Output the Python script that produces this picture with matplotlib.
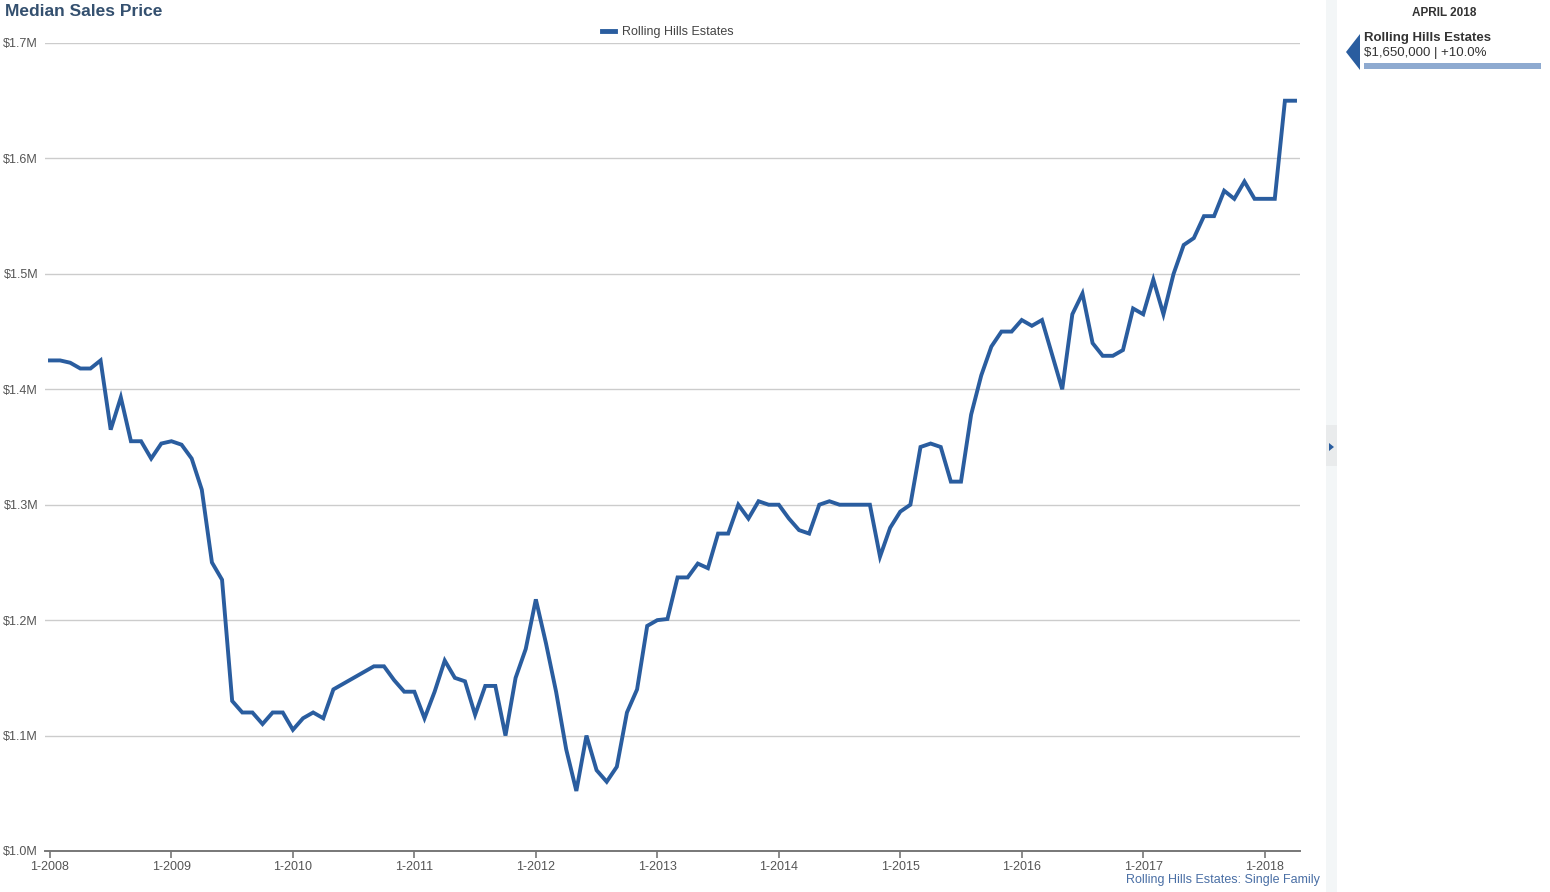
import matplotlib
matplotlib.use("Agg")
import matplotlib.pyplot as plt
from matplotlib.patches import Rectangle, Polygon

plt.rcParams['font.family'] = ['Liberation Sans', 'DejaVu Sans']

# ---- data (median sales price, $M, monthly Jan 2008 - Apr 2018) ----
series_name = "Rolling Hills Estates"
prices = [
    1.425, 1.425, 1.423, 1.418, 1.418, 1.425, 1.365, 1.393, 1.355, 1.355, 1.340, 1.353,  # 2008
    1.355, 1.352, 1.340, 1.313, 1.250, 1.235, 1.130, 1.120, 1.120, 1.110, 1.120, 1.120,  # 2009
    1.105, 1.115, 1.120, 1.115, 1.140, 1.145, 1.150, 1.155, 1.160, 1.160, 1.148, 1.138,  # 2010
    1.138, 1.115, 1.138, 1.165, 1.150, 1.147, 1.118, 1.143, 1.143, 1.100, 1.150, 1.175,  # 2011
    1.218, 1.180, 1.138, 1.088, 1.052, 1.100, 1.070, 1.060, 1.073, 1.120, 1.140, 1.195,  # 2012
    1.200, 1.201, 1.237, 1.237, 1.249, 1.245, 1.275, 1.275, 1.300, 1.288, 1.303, 1.300,  # 2013
    1.300, 1.288, 1.278, 1.275, 1.300, 1.303, 1.300, 1.300, 1.300, 1.300, 1.255, 1.280,  # 2014
    1.294, 1.300, 1.350, 1.353, 1.350, 1.320, 1.320, 1.378, 1.412, 1.437, 1.450, 1.450,  # 2015
    1.460, 1.455, 1.460, 1.430, 1.400, 1.465, 1.483, 1.440, 1.429, 1.429, 1.434, 1.470,  # 2016
    1.465, 1.495, 1.465, 1.500, 1.525, 1.531, 1.550, 1.550, 1.572, 1.565, 1.580, 1.565,  # 2017
    1.565, 1.565, 1.650, 1.650,                                                          # 2018
]
year_labels = ["1-2008", "1-2009", "1-2010", "1-2011", "1-2012", "1-2013",
               "1-2014", "1-2015", "1-2016", "1-2017", "1-2018"]
y_ticks = [1.0, 1.1, 1.2, 1.3, 1.4, 1.5, 1.6, 1.7]
y_labels = ["$1.0M", "$1.1M", "$1.2M", "$1.3M", "$1.4M", "$1.5M", "$1.6M", "$1.7M"]
latest_label = "APRIL 2018"

W, H = 1550, 892
fig = plt.figure(figsize=(W / 100, H / 100), dpi=100)
fig.patch.set_facecolor("white")

def fx(px):
    return px / W

def fy(py):
    return 1 - py / H

LINE = "#2a5d9f"
GRID = "#cccccc"
TXT = "#555555"

ax = fig.add_axes([fx(45), fy(851), fx(1300) - fx(45), fy(43) - fy(851)])
months = list(range(len(prices)))
ax.plot(months, prices, color=LINE, lw=2.8, solid_joinstyle="miter", zorder=3)

ax.set_xlim(-0.49, len(prices) - 1 + 0.49)
ax.set_ylim(1.0, 1.7)
ax.set_yticks(y_ticks)
ax.set_yticklabels(y_labels)
ax.set_xticks([12 * i for i in range(len(year_labels))])
ax.set_xticklabels(year_labels)
ax.yaxis.grid(True, color=GRID, lw=1.0)
ax.set_axisbelow(True)
for s in ["top", "right", "left"]:
    ax.spines[s].set_visible(False)
ax.spines["bottom"].set_color("#777777")
ax.spines["bottom"].set_linewidth(1.4)
ax.tick_params(axis="y", length=0, pad=5, labelsize=9, labelcolor=TXT)
ax.tick_params(axis="x", length=5, width=1.2, color="#777777", pad=2,
               labelsize=9, labelcolor=TXT)
ax.set_facecolor("white")

# title and legend
fig.text(fx(5), fy(11), "Median Sales Price", fontsize=12.5, fontweight="bold",
         color="#34506f", ha="left", va="center")
ax.legend([series_name], loc="upper center", bbox_to_anchor=(fx(668), fy(15)),
          bbox_transform=fig.transFigure, frameon=False, fontsize=9,
          handlelength=1.0, handletextpad=0.6, labelcolor="#444444")
leg = ax.get_legend()
for h in leg.get_lines():
    h.set_linewidth(3.5)

fig.text(fx(1320), fy(880), f"{series_name}: Single Family", fontsize=9,
         color="#4a6fa5", ha="right", va="center")

# separator strip with collapse arrow
fig.add_artist(Rectangle((fx(1326), 0), fx(1337) - fx(1326), 1,
                         transform=fig.transFigure, color="#f3f6f7", lw=0))
fig.add_artist(Rectangle((fx(1326), fy(466)), fx(1337) - fx(1326), fy(425) - fy(466),
                         transform=fig.transFigure, color="#e9ebec", lw=0))
fig.add_artist(Polygon([(fx(1329), fy(443)), (fx(1329), fy(451)), (fx(1334), fy(447))],
                       closed=True, transform=fig.transFigure, color=LINE, lw=0))

# side panel
latest = prices[-1]
prev_year = prices[-13]
pct = (latest / prev_year - 1) * 100
fig.text(fx(1444), fy(13), latest_label, fontsize=8.5, fontweight="bold",
         color="#333333", ha="center", va="center")
fig.add_artist(Polygon([(fx(1346), fy(52)), (fx(1360), fy(34)), (fx(1360), fy(70))],
                       closed=True, transform=fig.transFigure, color=LINE, lw=0))
fig.text(fx(1364), fy(38), series_name, fontsize=9.5, fontweight="bold",
         color="#333333", ha="left", va="center")
fig.text(fx(1364), fy(53), f"${latest * 1e6:,.0f} | +{pct:.1f}%", fontsize=9.5,
         color="#333333", ha="left", va="center")
fig.add_artist(Rectangle((fx(1364), fy(69)), fx(1541) - fx(1364), fy(63) - fy(69),
                         transform=fig.transFigure, color="#8eaad0", lw=0))

fig.savefig("out.png", dpi=100, facecolor="white")
